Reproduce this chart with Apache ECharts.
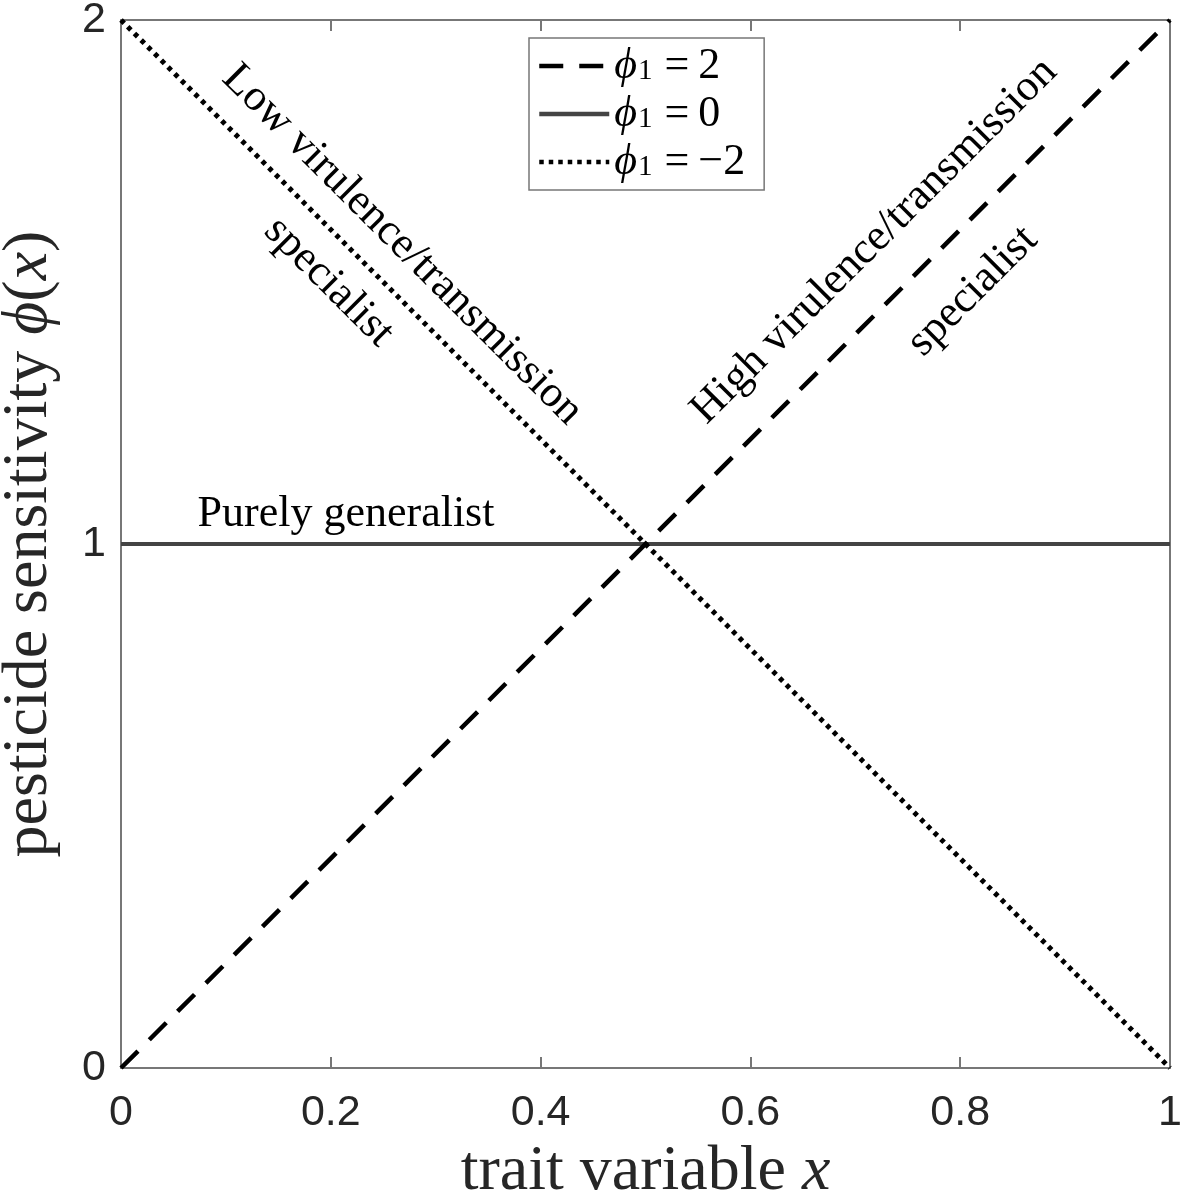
<!DOCTYPE html>
<html>
<head>
<meta charset="utf-8">
<script src="https://cdn.jsdelivr.net/npm/echarts@6/dist/echarts.min.js"></script>
<style>
html,body{margin:0;padding:0;background:#fff;}
#chart{width:1187px;height:1196px;}
</style>
</head>
<body>
<div id="chart"></div>
<script>
// ---- data ----
var xValues = [0, 1];
var seriesNames = ['phi1=2', 'phi1=0', 'phi1=-2'];
var phiPos2 = [0, 2];   // phi1 = 2
var phiZero = [1, 1];   // phi1 = 0
var phiNeg2 = [2, 0];   // phi1 = -2
var legendValues = ['2', '0', '\u22122'];
var xTicks = [0, 0.2, 0.4, 0.6, 0.8, 1];
var yTicks = [0, 1, 2];

// annotations: [text, x, y, rotationDeg]
var annoTexts = ['Purely generalist', 'Low virulence/transmission', 'specialist', 'High virulence/transmission', 'specialist'];
var annoX = [0.2145, 0.268, 0.198, 0.718, 0.812];
var annoY = [1.057, 1.571, 1.500, 1.578, 1.482];
var annoRot = [0, -45, -45, 45, 45];

function pairs(xs, ys){ return xs.map(function(x,i){ return [x, ys[i]]; }); }

var serif = '"Liberation Serif", "DejaVu Serif", serif';
var sans = '"Liberation Sans", Arial, sans-serif';
var axisColor = '#777';

var chart = echarts.init(document.getElementById('chart'), null, {renderer:'canvas'});

function axisCommon(showLabel){
  return {
    min: 0,
    axisLine: {show: true, onZero: false, lineStyle: {color: axisColor, width: 2}},
    axisTick: {show: true, inside: true, length: 11, lineStyle: {color: axisColor, width: 2}},
    axisLabel: {show: showLabel, color: '#262626', fontFamily: sans, fontSize: 43},
    splitLine: {show: false}
  };
}

var legendMap = {};
seriesNames.forEach(function(n, i){ legendMap[n] = legendValues[i]; });

var option = {
  animation: false,
  backgroundColor: '#fff',
  grid: {left: 121, right: 17, top: 20, bottom: 128, containLabel: false, outerBoundsMode: 'none'},
  legend: {
    data: seriesNames,
    orient: 'vertical',
    left: 529, top: 38,
    padding: [6, 19, 6, 8],
    itemGap: 4,
    itemWidth: 70,
    itemHeight: 20,
    backgroundColor: '#fff',
    borderColor: '#777',
    borderWidth: 1.5,
    borderRadius: 0,
    itemStyle: {opacity: 0},
    lineStyle: {width: 4.5},
    textStyle: {
      fontFamily: serif, fontSize: 42, color: '#000', lineHeight: 40,
      rich: {
        p: {fontFamily: serif, fontStyle: 'italic', fontSize: 44, lineHeight: 40, color: '#000'},
        s: {fontFamily: serif, fontSize: 29, lineHeight: 14, color: '#000', verticalAlign: 'bottom', padding: [0, 0, 0, 1]},
        e: {fontFamily: serif, fontSize: 44, lineHeight: 40, color: '#000', padding: [0, 9, 0, 12]},
        n: {fontFamily: serif, fontSize: 44, lineHeight: 40, color: '#000'}
      }
    },
    formatter: function(name){ return '{p|\u03d5}{s|1}{e|=}{n|' + legendMap[name] + '}'; }
  },
  xAxis: [
    Object.assign(axisCommon(true), {
      type: 'value', max: 1, interval: 0.2, position: 'bottom',
      axisLabel: {show: true, color: '#262626', fontFamily: sans, fontSize: 43, margin: 24,
        formatter: function(v){ return String(Math.round(v*10)/10); }},
      name: 'trait variable {i|x}', nameLocation: 'middle', nameGap: 65,
      nameTextStyle: {fontFamily: serif, fontSize: 64, color: '#262626',
        rich: {i: {fontFamily: serif, fontStyle: 'italic', fontSize: 64, color: '#262626'}}}
    }),
    Object.assign(axisCommon(false), {
      type: 'value', max: 1, interval: 0.2, position: 'top'
    })
  ],
  yAxis: [
    Object.assign(axisCommon(true), {
      type: 'value', max: 2, interval: 1, position: 'left',
      axisLabel: {show: true, color: '#262626', fontFamily: sans, fontSize: 43, margin: 15},
      name: 'pesticide sensitivity {i|\u03d5}({i|x})', nameLocation: 'middle', nameGap: 60,
      nameTextStyle: {fontFamily: serif, fontSize: 64, color: '#262626',
        rich: {i: {fontFamily: serif, fontStyle: 'italic', fontSize: 64, color: '#262626'}}}
    }),
    Object.assign(axisCommon(false), {
      type: 'value', max: 2, interval: 1, position: 'right'
    })
  ],
  series: [
    {name: seriesNames[0], type: 'line', data: pairs(xValues, phiPos2), symbol: 'none', z: 3,
     lineStyle: {color: '#000', width: 4.5, type: [24, 16], cap: 'butt'}, itemStyle: {color: '#000'}},
    {name: seriesNames[1], type: 'line', data: pairs(xValues, phiZero), symbol: 'none', z: 2,
     lineStyle: {color: '#444', width: 4, type: 'solid'}, itemStyle: {color: '#444'}},
    {name: seriesNames[2], type: 'line', data: pairs(xValues, phiNeg2), symbol: 'none', z: 3,
     lineStyle: {color: '#000', width: 5, type: [4.5, 5], cap: 'butt'}, itemStyle: {color: '#000'}}
  ]
};
chart.setOption(option);

var graphics = annoTexts.map(function(t, i){
  var p = chart.convertToPixel({gridIndex: 0}, [annoX[i], annoY[i]]);
  return {
    type: 'text', x: p[0], y: p[1], rotation: annoRot[i] * Math.PI / 180, z: 10,
    style: {text: t, fontFamily: serif, fontSize: 44, fill: '#000', align: 'center', verticalAlign: 'middle'}
  };
});
chart.setOption({graphic: graphics});
</script>
</body>
</html>
